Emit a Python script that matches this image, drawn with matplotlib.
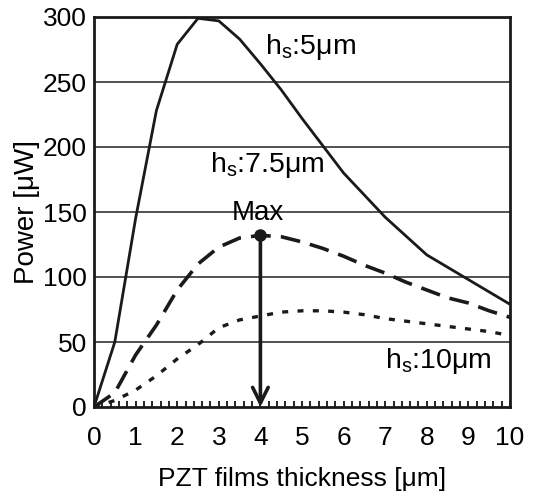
import matplotlib
matplotlib.use("Agg")
import matplotlib.pyplot as plt
from matplotlib.ticker import MultipleLocator

plt.rcParams['font.family'] = ['Liberation Sans', 'DejaVu Sans']
plt.rcParams['mathtext.fontset'] = 'custom'
plt.rcParams['mathtext.rm'] = 'Liberation Sans'
plt.rcParams['mathtext.it'] = 'Liberation Sans:italic'

# h_s = 5 um (solid)
x_5 = [0, 0.5, 1, 1.5, 2, 2.5, 3, 3.5, 4, 4.5, 5, 5.5, 6, 7, 8, 9, 10]
p_5 = [0, 50, 145, 228, 279, 299, 297, 283, 264, 244, 222, 201, 180, 146, 117, 98, 79]

# h_s = 7.5 um (dashed)
x_75 = [0, 0.5, 1, 1.5, 2, 2.5, 3, 3.5, 4, 4.5, 5, 5.5, 6, 6.5, 7, 7.5, 8, 8.5, 9, 9.5, 10]
p_75 = [0, 11, 40, 63, 90, 110, 123, 130, 132, 131, 127, 122, 116, 109, 103, 96, 90, 84, 80, 74, 69]

# h_s = 10 um (dotted)
x_10 = x_75
p_10 = [0, 5, 13, 24, 37, 48, 61, 67, 70, 73, 74, 74, 73, 71, 68, 66, 64, 62, 60, 58, 55]

max_x, max_p = 4, 132

fig = plt.figure(figsize=(5.36, 4.95), dpi=100)
ax = fig.add_axes([94/536, 1-407/495, 416/536, 390/495])

for y in [50, 100, 150, 200, 250]:
    ax.axhline(y, color='#222222', lw=1.1, zorder=1)

ax.plot(x_5, p_5, color='#1a1a1a', lw=2, zorder=3)
ax.plot(x_75, p_75, color='#1a1a1a', lw=2.6, dashes=(5.5, 2.8), zorder=3)
ax.plot(x_10, p_10, color='#1a1a1a', lw=2.4, dashes=(1.8, 2.8), zorder=3)

# Max marker and arrow
ax.annotate('', xy=(max_x, 0), xytext=(max_x, max_p),
            arrowprops=dict(arrowstyle='->', color='#1a1a1a', lw=2.6,
                            mutation_scale=28, shrinkA=0, shrinkB=0), zorder=4)
ax.plot([max_x], [max_p], 'o', color='#1a1a1a', ms=8, zorder=5)
ax.text(3.95, 149, 'Max', fontsize=20, ha='center', va='center')

ax.text(4.1, 277, r'h$_\mathrm{s}$:5μm', fontsize=20.5, ha='left', va='center')
ax.text(2.8, 186, r'h$_\mathrm{s}$:7.5μm', fontsize=20.5, ha='left', va='center')
ax.text(7.0, 35, r'h$_\mathrm{s}$:10μm', fontsize=20.5, ha='left', va='center')

ax.set_xlim(0, 10)
ax.set_ylim(0, 300)
ax.xaxis.set_major_locator(MultipleLocator(1))
ax.xaxis.set_minor_locator(MultipleLocator(0.2))
ax.yaxis.set_major_locator(MultipleLocator(50))
ax.tick_params(axis='x', which='both', direction='in', length=4, width=1.2,
               labelsize=19, pad=14)
ax.tick_params(axis='y', which='both', length=0, labelsize=19, pad=5)

for s in ax.spines.values():
    s.set_linewidth(2)
    s.set_color('#1a1a1a')

ax.set_xlabel('PZT films thickness [μm]', fontsize=19, labelpad=12)
ax.set_ylabel('Power [μW]', fontsize=20, labelpad=2)

fig.savefig('out.png', dpi=100)
